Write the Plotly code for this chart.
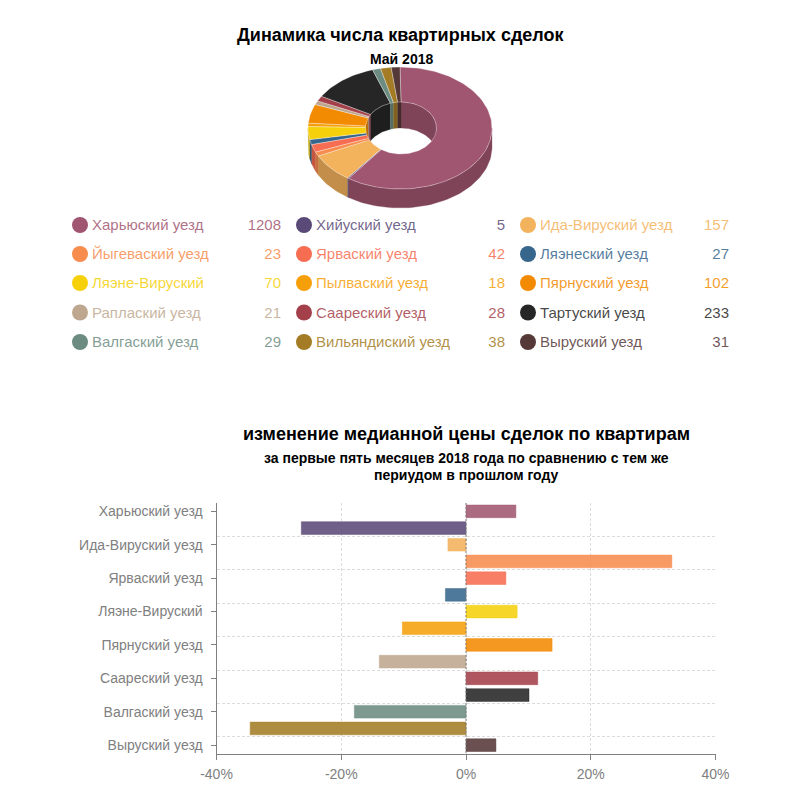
import math
import plotly.graph_objects as go

# ---------- data ----------
districts = ["Харьюский уезд", "Хийуский уезд", "Ида-Вируский уезд", "Йыгеваский уезд", "Ярваский уезд",
             "Ляэнеский уезд", "Ляэне-Вируский", "Пылваский уезд", "Пярнуский уезд", "Раплаский уезд",
             "Саареский уезд", "Тартуский уезд", "Валгаский уезд",
             "Вильяндиский уезд", "Выруский уезд"]
deals = [1208, 5, 157, 23, 42, 27, 70, 18, 102, 21, 28, 233, 29, 38, 31]
price_change = [8.0, -26.4, -2.9, 33.0, 6.4, -3.3, 8.2, -10.2, 13.8, -13.9, 11.5, 10.1, -17.9, -34.6, 4.8]
colors = ["#A05670", "#5A4A78", "#F3B25C", "#F78C4D", "#F76D51", "#36668C", "#F5D00B", "#F5A00A",
          "#F28A02", "#BEA78E", "#A4404A", "#262626", "#6C8C81", "#A37C25", "#553838"]
x_ticks = [-40, -20, 0, 20, 40]
x_tick_labels = ["-40%", "-20%", "0%", "20%", "40%"]

FONT = "Liberation Sans"


def rgba(h, a):
    return "rgba(%d,%d,%d,%g)" % (int(h[1:3], 16), int(h[3:5], 16), int(h[5:7], 16), a)


def shade(h, k):
    return "#%02x%02x%02x" % tuple(int(int(h[i:i + 2], 16) * k) for i in (1, 3, 5))


fig = go.Figure()

# ---------- horizontal bars ----------
fig.add_trace(go.Bar(
    y=list(range(len(districts))), x=price_change, orientation="h", width=0.76,
    marker=dict(color=[rgba(c, 0.88) for c in colors],
                line=dict(color=[rgba(c, 0.45) for c in colors], width=1)),
    hoverinfo="skip", showlegend=False, xaxis="x", yaxis="y"))

# ---------- 3D donut drawn on a page-sized overlay axis ----------
CX, CY, RX, RY = 400.0, 128.0, 92.0, 61.0
ICX, IRX, IRY = 401.0, 35.5, 26.0
DEPTH, IDEPTH = 19.0, 26.0


def arc(cx, cy, rx, ry, a0, a1):
    n = max(2, int(abs(a1 - a0) / 2) + 2)
    xs, ys = [], []
    for i in range(n):
        t = math.radians(a0 + (a1 - a0) * i / (n - 1))
        xs.append(cx + rx * math.sin(t))
        ys.append(cy - ry * math.cos(t))
    return xs, ys


def poly(xs, ys, fill, line, width=0.6):
    fig.add_trace(go.Scatter(x=xs + xs[:1], y=ys + ys[:1], mode="lines", fill="toself", fillcolor=fill,
                             line=dict(color=line, width=width), hoverinfo="skip", showlegend=False,
                             xaxis="x2", yaxis="y2"))


total = sum(deals)
spans, acc = [], 0.0
for v in deals:
    spans.append((acc, acc + v / total * 360))
    acc += v / total * 360


def wall(cx, rx, ry, depth, a0, a1, color):
    xs1, ys1 = arc(cx, CY, rx, ry, a0, a1)
    xs2, ys2 = arc(cx, CY + depth, rx, ry, a1, a0)
    poly(xs1 + xs2, ys1 + ys2, color, color, 0.3)


# outer walls (front half)
for (a0, a1), c in zip(spans, colors):
    lo, hi = max(a0, 90), min(a1, 270)
    if hi > lo:
        wall(CX, RX, RY, DEPTH, lo, hi, shade(c, 0.8))
# inner walls (back half)
for (a0, a1), c in zip(spans, colors):
    for lim0, lim1 in ((0, 90), (270, 360)):
        lo, hi = max(a0, lim0), min(a1, lim1)
        if hi > lo:
            wall(ICX, IRX, IRY, IDEPTH, lo, hi, shade(c, 0.8))
# top faces
for (a0, a1), c in zip(spans, colors):
    xs1, ys1 = arc(CX, CY, RX, RY, a0, a1)
    xs2, ys2 = arc(ICX, CY, IRX, IRY, a1, a0)
    poly(xs1 + xs2, ys1 + ys2, c, "rgba(255,255,255,0.55)")

# ---------- legend table ----------
COL_X = [80, 304, 528]
ROW_Y = [225, 254, 283, 312.5, 342]
TEXT_DX, VALUE_DX, TEXT_DY = 12, 201, 1.5
mx, my, ty, tx, vx = [], [], [], [], []
for i in range(len(deals)):
    col, row = i % 3, i // 3
    mx.append(COL_X[col])
    my.append(ROW_Y[row])
    ty.append(ROW_Y[row] + TEXT_DY)
    tx.append(COL_X[col] + TEXT_DX)
    vx.append(COL_X[col] + VALUE_DX)
text_colors = [rgba(c, 0.85) for c in colors]
fig.add_trace(go.Scatter(x=mx, y=my, mode="markers", marker=dict(color=colors, size=16),
                         hoverinfo="skip", showlegend=False, xaxis="x2", yaxis="y2"))
fig.add_trace(go.Scatter(x=tx, y=ty, mode="text", text=districts, textposition="middle right",
                         textfont=dict(family=FONT, size=15, color=text_colors),
                         hoverinfo="skip", showlegend=False, xaxis="x2", yaxis="y2"))
fig.add_trace(go.Scatter(x=vx, y=ty, mode="text", text=[str(v) for v in deals], textposition="middle left",
                         textfont=dict(family=FONT, size=15, color=text_colors),
                         hoverinfo="skip", showlegend=False, xaxis="x2", yaxis="y2"))


def title(text, x, y, size):
    fig.add_annotation(text=text, x=x, y=y, xref="x2", yref="y2", showarrow=False, xanchor="center",
                       yanchor="middle", font=dict(family=FONT, size=size, color="#000000"))


title("<b>Динамика числа квартирных сделок</b>", 401, 35, 18)
title("<b>Май 2018</b>", 401, 59, 14)
title("<b>изменение медианной цены сделок по квартирам</b>", 466, 434, 18)
title("<b>за первые пять месяцев 2018 года по сравнению с тем же</b>", 466, 458, 14)
title("<b>периудом в прошлом году</b>", 466, 475, 14)

fig.add_shape(type="line", x0=0, x1=0, y0=-0.5, y1=14.5, xref="x", yref="y", layer="above",
              line=dict(color="#808080", width=1, dash="2px,2px"))

GRID = "#dcdcdc"
DASH = "3px,2px"
fig.update_layout(
    width=800, height=800, margin=dict(l=0, r=0, t=0, b=0), autosize=False,
    paper_bgcolor="#ffffff", plot_bgcolor="rgba(0,0,0,0)", showlegend=False,
    font=dict(family=FONT, size=14, color="#808080"),
    xaxis=dict(domain=[216.5 / 800, 715.5 / 800], range=[-40, 40], tickmode="array", tickvals=x_ticks,
               ticktext=x_tick_labels, ticks="outside", ticklen=5, tickcolor="#808080", showline=True,
               linecolor="#808080", linewidth=1, showgrid=True, gridcolor=GRID, griddash=DASH, gridwidth=1,
               zeroline=False, anchor="y", automargin=False, ticklabelstandoff=3,
               tickfont=dict(size=14, color="#808080")),
    yaxis=dict(domain=[1 - 753.5 / 800, 1 - 503 / 800], range=[14.5, -0.5], tickmode="array",
               tickvals=list(range(0, 15, 2)), ticktext=districts[::2], ticks="outside", ticklen=5,
               tickcolor="#808080", showline=True, linecolor="#808080", linewidth=1, showgrid=False,
               zeroline=False, anchor="x", automargin=False, ticklabelstandoff=5,
               tickfont=dict(size=14, color="#808080"),
               minor=dict(tickmode="array", tickvals=[k - 0.5 for k in range(0, 16, 2)], showgrid=True,
                          gridcolor=GRID, griddash=DASH, gridwidth=1, ticks="")),
    xaxis2=dict(domain=[0, 1], range=[0, 800], visible=False, anchor="y2"),
    yaxis2=dict(domain=[0, 1], range=[800, 0], visible=False, anchor="x2"),
)
fig.write_html("out.html", post_script="document.body.style.margin='0';",
               config={"displayModeBar": False})
